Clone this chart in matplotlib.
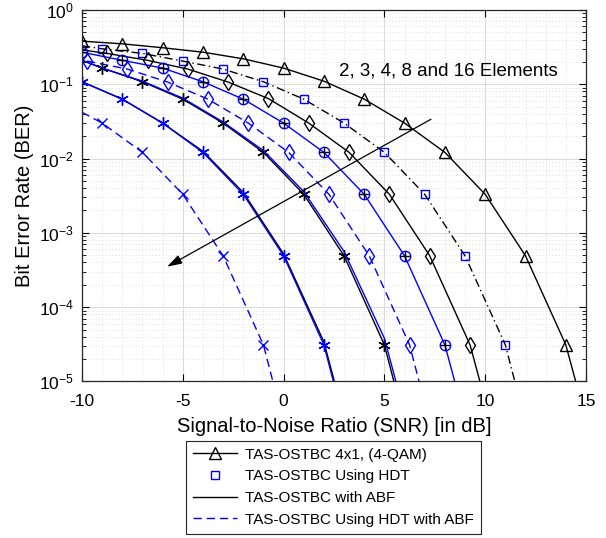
import matplotlib
matplotlib.use("Agg")
import matplotlib.pyplot as plt
from matplotlib.lines import Line2D
from matplotlib.ticker import MultipleLocator, LogLocator, NullFormatter

plt.rcParams['font.family'] = ['Liberation Sans', 'DejaVu Sans']
plt.rcParams['mathtext.default'] = 'regular'
plt.rcParams['axes.unicode_minus'] = False

# TAS-OSTBC 4x1 (4-QAM), triangles
snr_tri = [-10, -8, -6, -4, -2, 0, 2, 4, 6, 8, 10, 12, 14, 16]
ber_tri = [0.38, 0.35, 0.31, 0.27, 0.22, 0.165, 0.11, 0.063, 0.030, 0.0121,
           3.3e-3, 4.9e-4, 3.1e-5, 3e-7]

# TAS-OSTBC using HDT, squares (markers only)
snr_sq = [-9, -7, -5, -3, -1, 1, 3, 5, 7, 9, 11]
ber_sq = [0.30, 0.26, 0.205, 0.16, 0.108, 0.063, 0.030, 0.0121, 3.3e-3, 4.9e-4, 3.1e-5]

# dash-dot line through the squares
snr_dd = [-10, -9, -7, -5, -3, -1, 1, 3, 5, 7, 9, 11, 13]
ber_dd = [0.33, 0.30, 0.26, 0.205, 0.16, 0.108, 0.063, 0.030, 0.0121, 3.3e-3,
          4.9e-4, 3.1e-5, 2.5e-7]

# ABF, black diamonds
snr_dia = [-10, -8.75, -6.75, -4.75, -2.75, -0.75, 1.25, 3.25, 5.25, 7.25, 9.25, 11.25]
ber_dia = [0.29, 0.26, 0.21, 0.16, 0.107, 0.064, 0.030, 0.0121, 3.3e-3, 4.9e-4,
           3.1e-5, 3e-7]

# blue circles with black plus
snr_cp = [-10, -8, -6, -4, -2, 0, 2, 4, 6, 8, 10]
ber_cp = [0.27, 0.21, 0.165, 0.108, 0.063, 0.030, 0.0121, 3.3e-3, 4.9e-4, 3.1e-5, 3e-7]

# HDT with ABF, blue diamonds (dashed)
snr_bd = [-9.75, -7.75, -5.75, -3.75, -1.75, 0.25, 2.25, 4.25, 6.25, 8.25]
ber_bd = [0.205, 0.16, 0.107, 0.063, 0.030, 0.0121, 3.3e-3, 4.9e-4, 3.1e-5, 2.5e-7]

# black asterisks and its blue companion
snr_ka = [-10, -9, -7, -5, -3, -1, 1, 3, 5, 7]
ber_ka = [0.21, 0.165, 0.108, 0.063, 0.030, 0.0121, 3.3e-3, 4.9e-4, 3.1e-5, 2.5e-7]
ber_ka_blue = [0.21, 0.165, 0.11, 0.065, 0.031, 0.0128, 3.6e-3, 5.6e-4, 3.8e-5, 3.5e-7]

# blue asterisks and its black companion
snr_ba = [-10, -8, -6, -4, -2, 0, 2, 4]
ber_ba = [0.108, 0.063, 0.030, 0.0121, 3.3e-3, 4.9e-4, 3.1e-5, 2.5e-7]
ber_ba_black = [0.108, 0.063, 0.030, 0.0125, 3.5e-3, 5.2e-4, 3.4e-5, 3e-7]

# HDT with ABF, blue crosses (dashed)
snr_bx = [-10, -9, -7, -5, -3, -1, 1]
ber_bx = [0.042, 0.030, 0.0121, 3.3e-3, 4.9e-4, 3.1e-5, 2.5e-7]

legend_labels = ['TAS-OSTBC 4x1, (4-QAM)', 'TAS-OSTBC Using HDT',
                 'TAS-OSTBC with ABF', 'TAS-OSTBC Using HDT with ABF']

blue = '#0000ff'
lw = 1.0
dash = (0, (6, 3.5))
dashdot = (0, (6, 2.5, 1, 2.5))
ast = (6, 2, 0)

fig = plt.figure(figsize=(6.06, 5.38), dpi=100)
ax = fig.add_axes([0.1353, 0.291, 0.8317, 0.6905])

ax.semilogy(snr_tri, ber_tri, 'k-', lw=lw, marker='^', ms=8.5, mfc='none', mew=1.0)
ax.semilogy(snr_dd, ber_dd, color='k', ls=dashdot, lw=lw)
ax.semilogy(snr_sq, ber_sq, ls='none', marker='s', ms=6, mfc='none', mec=blue, mew=1.0)
ax.semilogy(snr_dia, ber_dia, 'k-', lw=lw, marker='d', ms=8.5, mfc='none', mew=1.0,
            markevery=list(range(1, len(snr_dia))))
ax.semilogy(snr_cp, ber_cp, color=blue, lw=lw, marker='o', ms=7.5, mfc='none', mew=1.0)
ax.semilogy(snr_cp, ber_cp, ls='none', marker='+', ms=7.5, color='k', mew=1.0)
ax.semilogy(snr_bd, ber_bd, color=blue, ls=dash, lw=lw, marker='d', ms=8.5, mfc='none', mew=1.0)
ax.semilogy(snr_ka, ber_ka, 'k-', lw=lw, marker=ast, ms=9, mew=1.0,
            markevery=list(range(1, len(snr_ka))))
ax.semilogy(snr_ka, ber_ka_blue, color=blue, lw=lw)
ax.semilogy(snr_ba, ber_ba_black, 'k-', lw=lw)
ax.semilogy(snr_ba, ber_ba, color=blue, lw=lw, marker=ast, ms=9, mew=1.0)
ax.semilogy(snr_bx, ber_bx, color=blue, ls=dash, lw=lw, marker='x', ms=7, mew=1.0,
            markevery=list(range(1, len(snr_bx))))

ax.set_xlim(-10, 15)
ax.set_ylim(1e-5, 1)
ax.xaxis.set_major_locator(MultipleLocator(5))
ax.xaxis.set_minor_locator(MultipleLocator(1))
ax.yaxis.set_major_locator(LogLocator(base=10, numticks=10))
ax.yaxis.set_minor_locator(LogLocator(base=10, subs=range(2, 10), numticks=20))
ax.yaxis.set_minor_formatter(NullFormatter())
ax.grid(True, which='major', color='#dcdcdc', lw=0.8, ls='-')
ax.grid(True, which='minor', color='#d2d2d2', lw=0.6, ls=(0, (1, 3)))
ax.set_axisbelow(True)
ax.tick_params(which='both', direction='in', top=True, right=True, labelsize=12.5)
ax.tick_params(which='major', length=5, width=0.8)
ax.tick_params(axis='x', which='major', pad=9)
ax.tick_params(axis='y', which='major', pad=6)
ax.tick_params(axis='y', which='minor', length=3, width=0.6)
ax.tick_params(axis='x', which='minor', length=0)
for s in ax.spines.values():
    s.set_linewidth(0.9)
    s.set_color('#262626')

ax.set_xlabel('Signal-to-Noise Ratio (SNR) [in dB]', fontsize=14.5, labelpad=6)
ax.set_ylabel('Bit Error Rate (BER)', fontsize=14.5, labelpad=3)

ax.text(2.75, 0.15, '2, 3, 4, 8 and 16 Elements', fontsize=13.5, va='center', ha='left')
ax.annotate('', xy=(-5.78, 3.5e-4), xytext=(7.31, 0.0338),
            arrowprops=dict(arrowstyle='-|>,head_length=0.9,head_width=0.28',
                            color='k', lw=0.9, shrinkA=0, shrinkB=0))

handles = [
    Line2D([], [], color='k', lw=lw, marker='^', ms=8.5, mfc='none', mew=1.0),
    Line2D([], [], ls='none', marker='s', ms=6, mfc='none', mec=blue, mew=1.0),
    Line2D([], [], color='k', lw=lw),
    Line2D([], [], color=blue, ls=dash, lw=lw),
]
leg = fig.legend(handles, legend_labels, loc='lower center', bbox_to_anchor=(0.55, -0.006),
                 fontsize=11, fancybox=False, framealpha=1, edgecolor='#262626',
                 handlelength=2.9, labelspacing=0.5, borderpad=0.45, handletextpad=0.5)
leg.get_frame().set_linewidth(0.8)

fig.savefig('out.png', dpi=100)
